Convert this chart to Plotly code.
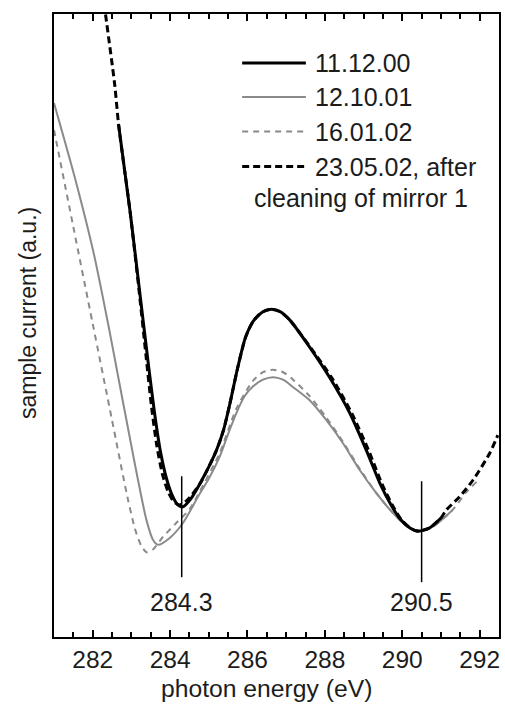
import plotly.graph_objects as go

# --- spectra: photon energy (eV) vs sample current (a.u.) ---
e_111200 = [282.67, 282.97, 283.23, 283.45, 283.6, 283.75, 283.9, 284.05, 284.2, 284.33,
            284.55, 284.77, 285.0, 285.2, 285.38, 285.54, 285.75, 285.95, 286.15, 286.4,
            286.62, 286.85, 287.09, 287.61, 288.12, 288.64, 289.07, 289.42, 289.7, 289.95,
            290.2, 290.4, 290.7, 291.0]
i_111200 = [82.2, 68.1, 54.6, 43.2, 35.9, 29.8, 25.6, 22.8, 21.2, 20.9,
            22.3, 24.6, 27.3, 30.0, 33.2, 37.3, 43.3, 48.1, 50.7, 52.2,
            52.6, 52.2, 50.9, 46.5, 41.7, 36.0, 30.0, 24.7, 21.3, 18.9,
            17.5, 17.0, 17.5, 19.1]

e_121001 = [281.0, 281.553, 282.026, 282.413, 282.673, 282.956, 283.171, 283.388, 283.558,
            283.687, 283.99, 284.333, 284.765, 285.0, 285.28, 285.5, 285.71, 285.92, 286.14,
            286.4, 286.66, 286.92, 287.18, 287.607, 288.039, 288.468, 288.9, 289.331, 289.76,
            290.1, 290.398, 290.79, 291.3]
i_121001 = [85.7, 73.4, 61.6, 49.8, 41.3, 32.1, 25.2, 18.8, 15.6,
            14.8, 15.9, 18.3, 23.0, 25.4, 28.9, 32.6, 35.9, 38.6, 40.2,
            41.3, 41.7, 41.3, 40.1, 38.0, 34.8, 31.1, 26.8, 23.1, 19.9,
            17.9, 16.9, 17.7, 20.4]

e_160102 = [281.0, 281.5, 282.0, 282.5, 282.9, 283.1, 283.25, 283.39, 283.55, 283.82,
            284.16, 284.5, 284.77, 285.28, 285.71, 286.14, 286.4, 286.66, 286.92, 287.18,
            287.6, 288.04, 288.47, 288.9, 289.33, 289.76, 290.1, 290.4, 290.79, 291.3,
            291.66, 291.92]
i_160102 = [81.4, 65.8, 50.3, 34.8, 22.4, 17.2, 14.7, 13.6, 14.0, 16.1,
            18.3, 20.5, 23.4, 29.5, 36.6, 41.1, 42.5, 42.9, 42.5, 41.3,
            38.7, 35.2, 31.3, 27.0, 23.1, 19.9, 17.9, 16.9, 17.7, 20.4,
            23.3, 24.9]

e_230502 = [282.18, 282.33, 282.57, 282.67, 282.97, 283.2, 283.38, 283.52, 283.66, 283.8,
            283.95, 284.1, 284.25, 284.45, 284.77, 285.0, 285.2, 285.38, 285.54, 285.75,
            285.95, 286.15, 286.4, 286.62, 286.85, 287.09, 287.65, 288.2, 288.72, 289.14,
            289.48, 289.75, 289.98, 290.2, 290.4, 290.7, 291.0, 291.14, 291.48, 291.83,
            292.26, 292.47]
i_230502 = [106.9, 100.0, 88.6, 82.2, 68.1, 55.5, 45.0, 37.0, 30.6, 26.2,
            23.3, 21.7, 21.2, 22.0, 24.6, 27.3, 30.0, 33.2, 37.3, 43.3,
            48.1, 50.7, 52.2, 52.6, 52.2, 50.9, 46.3, 41.4, 35.6, 29.8,
            24.5, 21.1, 18.8, 17.5, 17.0, 17.5, 19.1, 20.4, 22.5, 25.2,
            29.5, 32.4]

series_names = ["11.12.00", "12.10.01", "16.01.02", "23.05.02, after"]
legend_extra = "cleaning of mirror 1"
peak_marks = [284.3, 290.5]
x_ticks = [282, 284, 286, 288, 290, 292]

FONT = "Liberation Sans, Arial, sans-serif"
TXT = "#1c1c1c"
GRAY = "#8a8a8a"

styles = [
    dict(color="black", width=3, dash="solid"),
    dict(color=GRAY, width=2, dash="solid"),
    dict(color=GRAY, width=2, dash="6px,5px"),
    dict(color="black", width=3, dash="7px,4px"),
]
data = [(e_111200, i_111200), (e_121001, i_121001),
        (e_160102, i_160102), (e_230502, i_230502)]

fig = go.Figure()
# draw order: greys below, blacks on top
for idx in [1, 2, 0, 3]:
    x, y = data[idx]
    fig.add_trace(go.Scatter(
        x=x, y=y, mode="lines", name=series_names[idx],
        line=dict(shape="spline", smoothing=0.7, **styles[idx]),
        showlegend=False, hoverinfo="skip"))

# plot-area geometry in pixels (for placing the hand-built key)
L, R, T, B = 54, 501, 14, 637


def px_x(p):
    return (p - L) / (R - L)


def px_y(p):
    return (B - p) / (B - T)


shapes = []
annotations = []
rows = [63, 97, 131.5, 166.5]
for k, name in enumerate(series_names):
    st = styles[k]
    shapes.append(dict(type="line", xref="paper", yref="paper",
                       x0=px_x(243), x1=px_x(307), y0=px_y(rows[k]), y1=px_y(rows[k]),
                       line=dict(color=st["color"], width=st["width"], dash=st["dash"])))
    annotations.append(dict(xref="paper", yref="paper", x=px_x(314), y=px_y(rows[k]),
                            text=name, showarrow=False, xanchor="left", yanchor="middle",
                            font=dict(family=FONT, size=25, color=TXT)))
annotations.append(dict(xref="paper", yref="paper", x=px_x(253), y=px_y(198.5),
                        text=legend_extra, showarrow=False, xanchor="left", yanchor="middle",
                        font=dict(family=FONT, size=25, color=TXT)))

# vertical markers at the two minima with their energy labels
mark_spans = [(25.8, 9.6), (25.0, 8.8)]
for m, (ya, yb) in zip(peak_marks, mark_spans):
    shapes.append(dict(type="line", xref="x", yref="y", x0=m, x1=m, y0=ya, y1=yb,
                       line=dict(color="black", width=1.5)))
    annotations.append(dict(xref="x", yref="y", x=m, y=5.6, text=f"{m:.1f}",
                            showarrow=False, xanchor="center", yanchor="middle",
                            font=dict(family=FONT, size=25, color=TXT)))

# axis titles
annotations.append(dict(xref="paper", yref="paper", x=px_x(267), y=0, yshift=-51,
                        text="photon energy (eV)", showarrow=False,
                        xanchor="center", yanchor="middle",
                        font=dict(family=FONT, size=24.7, color=TXT)))
annotations.append(dict(xref="paper", yref="paper", x=0, xshift=-26, y=px_y(313),
                        text="sample current (a.u.)", showarrow=False, textangle=-90,
                        xanchor="center", yanchor="middle",
                        font=dict(family=FONT, size=23, color=TXT)))

fig.update_layout(
    width=505, height=709,
    margin=dict(l=L, r=505 - R, t=T, b=709 - B),
    paper_bgcolor="white", plot_bgcolor="white",
    shapes=shapes, annotations=annotations,
    font=dict(family=FONT, color=TXT),
)
fig.update_xaxes(
    range=[281, 292.5], tickvals=x_ticks, ticktext=[str(t) for t in x_ticks],
    ticks="inside", ticklen=7, tickwidth=1.5, tickcolor="black",
    minor=dict(dtick=0.5, tick0=281, ticks="inside", ticklen=5, tickwidth=1.5,
               tickcolor="black", showgrid=False),
    showline=True, linecolor="black", linewidth=2, mirror="ticks",
    showgrid=False, zeroline=False,
    tickfont=dict(family=FONT, size=24.5, color=TXT),
)
fig.update_yaxes(
    range=[0, 100], showticklabels=False, ticks="",
    showline=True, linecolor="black", linewidth=2, mirror=True,
    showgrid=False, zeroline=False,
)

fig.write_html("out.html")
